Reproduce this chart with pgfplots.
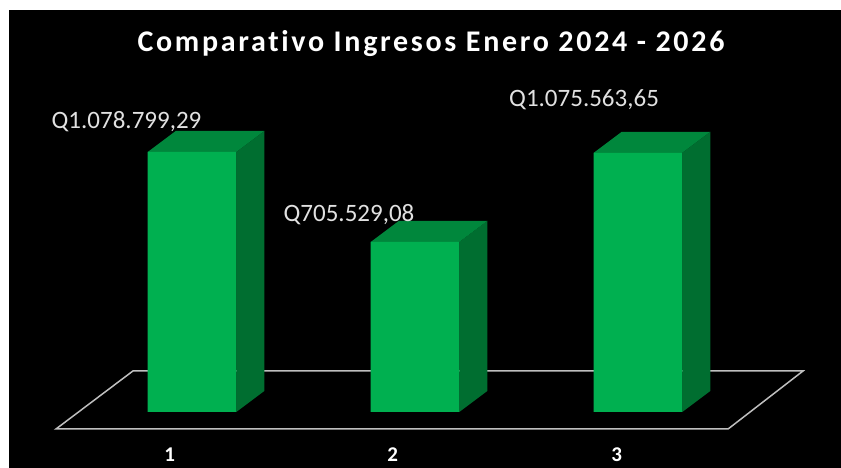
\documentclass[border=0pt]{standalone}
\usepackage{fontspec}
\setmainfont{Carlito}
\newfontfamily\titlefont[LetterSpace=9,Ligatures={NoCommon}]{Carlito}
\usepackage{pgfplots}
\pgfplotsset{compat=1.18}
\definecolor{frontgreen}{RGB}{0,176,80}
\definecolor{topgreen}{RGB}{0,135,60}
\definecolor{sidegreen}{RGB}{0,110,48}
\definecolor{floorgray}{RGB}{191,191,191}
\definecolor{labgray}{RGB}{225,225,225}
\begin{document}
\begin{tikzpicture}[x=1pt,y=1pt]
\fill[white] (0,0) rectangle (841,468);
\fill[black] (9,0) rectangle (841,458);
\node[anchor=base, text=white, font=\titlefont\bfseries\fontsize{30}{32}\selectfont] at (431,416) {Comparativo Ingresos Enero 2024 - 2026};
\begin{axis}[
  at={(0,0)}, anchor=south west,
  scale only axis, width=841pt, height=468pt,
  xmin=0.13901, xmax=3.91031,
  ymin=-232355, ymax=1709470,
  axis line style={draw=none},
  major tick length=0pt,
  ytick=\empty,
  xtick={0.90,1.90,2.905},
  xticklabels={1,2,3},
  xticklabel style={anchor=base, inner sep=0pt, yshift=6pt, text=white, font=\bfseries\fontsize{21}{23}\selectfont},
  clip=false,
]
% floor
\addplot[draw=floorgray, line width=1.5pt] coordinates {(0.390,-70536) (3.404,-70536) (3.740,170117) (0.735,170117)} -- cycle;
% bar 1
\addplot[fill=sidegreen, draw=none] coordinates {(1.1985,0) (1.3241,87134) (1.3241,1165933) (1.1985,1078799)} -- cycle;
\addplot[fill=topgreen, draw=none] coordinates {(0.8015,1078799) (1.1985,1078799) (1.3241,1165933) (0.9271,1165933)} -- cycle;
% bar 2
\addplot[fill=sidegreen, draw=none] coordinates {(2.1985,0) (2.3241,87134) (2.3241,792663) (2.1985,705529)} -- cycle;
\addplot[fill=topgreen, draw=none] coordinates {(1.8015,705529) (2.1985,705529) (2.3241,792663) (1.9271,792663)} -- cycle;
% bar 3
\addplot[fill=sidegreen, draw=none] coordinates {(3.1985,0) (3.3241,87134) (3.3241,1162698) (3.1985,1075564)} -- cycle;
\addplot[fill=topgreen, draw=none] coordinates {(2.8015,1075564) (3.1985,1075564) (3.3241,1162698) (2.9271,1162698)} -- cycle;
% front faces
\addplot[ybar, bar width=0.397, fill=frontgreen, draw=none] coordinates {(1,1078799.29) (2,705529.08) (3,1075563.65)};
% data labels
\node[text=labgray, font=\fontsize{25}{27}\selectfont] at (axis cs:0.7063,1203268) {Q1.078.799,29};
\node[text=labgray, font=\fontsize{25}{27}\selectfont] at (axis cs:1.704,817392) {Q705.529,08};
\node[text=labgray, font=\fontsize{25}{27}\selectfont] at (axis cs:2.758,1294550) {Q1.075.563,65};
\end{axis}
\pgfresetboundingbox
\useasboundingbox (0,0) rectangle (841,468);
\end{tikzpicture}
\end{document}
